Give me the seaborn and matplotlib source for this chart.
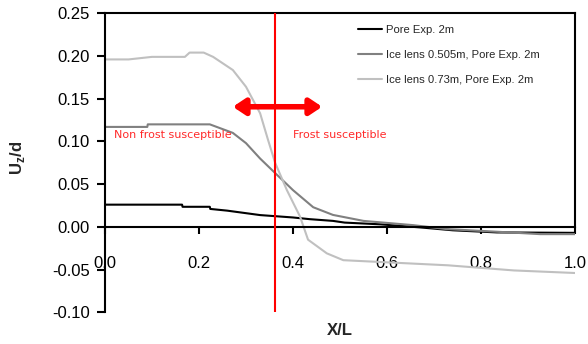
import matplotlib
matplotlib.use("Agg")
import matplotlib.pyplot as plt
import seaborn as sns
import pandas as pd

# ---- data ----
x_pore = [0.0, 0.164, 0.165, 0.223, 0.224, 0.26, 0.33, 0.40, 0.436, 0.485, 0.51, 0.585, 0.67, 0.74, 0.834, 1.0]
y_pore = [0.026, 0.026, 0.0235, 0.0235, 0.021, 0.019, 0.0138, 0.011, 0.009, 0.007, 0.005, 0.003, -0.0006, -0.004, -0.0065, -0.007]

x_lens505 = [0.0, 0.09, 0.091, 0.223, 0.272, 0.30, 0.33, 0.362, 0.40, 0.443, 0.485, 0.55, 0.656, 0.727, 0.834, 0.926, 1.0]
y_lens505 = [0.117, 0.117, 0.120, 0.120, 0.110, 0.098, 0.080, 0.063, 0.043, 0.023, 0.014, 0.007, 0.002, -0.0026, -0.0057, -0.0085, -0.0085]

x_lens73 = [0.0, 0.05, 0.10, 0.17, 0.18, 0.21, 0.23, 0.272, 0.30, 0.33, 0.347, 0.362, 0.387, 0.415, 0.432, 0.472, 0.507, 0.73, 0.80, 0.87, 1.0]
y_lens73 = [0.196, 0.196, 0.199, 0.199, 0.204, 0.204, 0.199, 0.1836, 0.164, 0.133, 0.1016, 0.075, 0.043, 0.012, -0.015, -0.031, -0.039, -0.045, -0.048, -0.051, -0.054]

series_labels = ["Pore Exp. 2m", "Ice lens 0.505m, Pore Exp. 2m", "Ice lens 0.73m, Pore Exp. 2m"]
series_colors = ["#000000", "#808080", "#c0c0c0"]

x_ticks = [0.0, 0.2, 0.4, 0.6, 0.8, 1.0]
x_tick_labels = ["0.0", "0.2", "0.4", "0.6", "0.8", "1.0"]
y_ticks = [-0.10, -0.05, 0.0, 0.05, 0.10, 0.15, 0.20, 0.25]
y_tick_labels = ["-0.10", "-0.05", "0.00", "0.05", "0.10", "0.15", "0.20", "0.25"]

boundary_x = 0.362
arrow_x0, arrow_x1, arrow_y = 0.272, 0.462, 0.1406

# ---- style ----
sns.set_theme(style="white")
plt.rcParams["font.family"] = ["Liberation Sans", "DejaVu Sans"]
plt.rcParams["mathtext.fontset"] = "custom"
plt.rcParams["mathtext.bf"] = "Liberation Sans:bold"
plt.rcParams["mathtext.rm"] = "Liberation Sans"

fig = plt.figure(figsize=(5.88, 3.44), dpi=100)
ax = fig.add_axes([105/588, 1-312.3/344, (575-105)/588, (312.3-13.3)/344])

frames = []
for xs, ys, lab in zip([x_pore, x_lens505, x_lens73], [y_pore, y_lens505, y_lens73], series_labels):
    frames.append(pd.DataFrame({"x": xs, "y": ys, "series": lab}))
df = pd.concat(frames, ignore_index=True)

sns.lineplot(data=df, x="x", y="y", hue="series", hue_order=series_labels,
             palette=dict(zip(series_labels, series_colors)), estimator=None,
             sort=False, linewidth=1.5, ax=ax)

ax.axvline(boundary_x, color="red", lw=1.5, zorder=5)
ax.annotate("", xy=(arrow_x1, arrow_y), xytext=(arrow_x0, arrow_y),
            arrowprops=dict(arrowstyle="<|-|>,head_length=0.6,head_width=0.4",
                            lw=4, color="red", shrinkA=0, shrinkB=0), zorder=6)
ax.text(0.02, 0.107, "Non frost susceptible", color="#ff2a2a", fontsize=8,
        family="DejaVu Sans", va="center", ha="left")
ax.text(0.40, 0.107, "Frost susceptible", color="#ff2a2a", fontsize=8,
        family="DejaVu Sans", va="center", ha="left")

ax.set_xlim(0, 1.0)
ax.set_ylim(-0.10, 0.25)
ax.set_xticks(x_ticks)
ax.set_xticklabels(x_tick_labels)
ax.set_yticks(y_ticks)
ax.set_yticklabels(y_tick_labels)

for s in ax.spines.values():
    s.set_color("black")
    s.set_linewidth(1.5)
ax.spines["bottom"].set_position(("data", 0))
ax.spines["right"].set_bounds(0, 0.25)

ax.tick_params(axis="y", direction="out", length=6, width=1.5, pad=5, labelsize=12,
               left=True, colors="black")
ax.tick_params(axis="x", direction="out", length=5, width=1.5, pad=16, labelsize=12,
               bottom=True, colors="black")

ax.set_xlabel("X/L", fontsize=12, fontweight="bold")
ax.xaxis.set_label_coords(0.5, -0.035)
ax.set_ylabel(r"U$_\mathbf{z}$/d", fontsize=12, fontweight="bold")
ax.yaxis.set_label_coords(-0.165, 0.515)

ax.legend(loc="upper left", bbox_to_anchor=(358/588, 1-25/344),
          bbox_transform=fig.transFigure, frameon=False, fontsize=8.1,
          borderpad=0, borderaxespad=0, handlelength=2.1, handletextpad=0.4,
          labelspacing=1.35, title=None)

fig.savefig("out.png", dpi=100)
